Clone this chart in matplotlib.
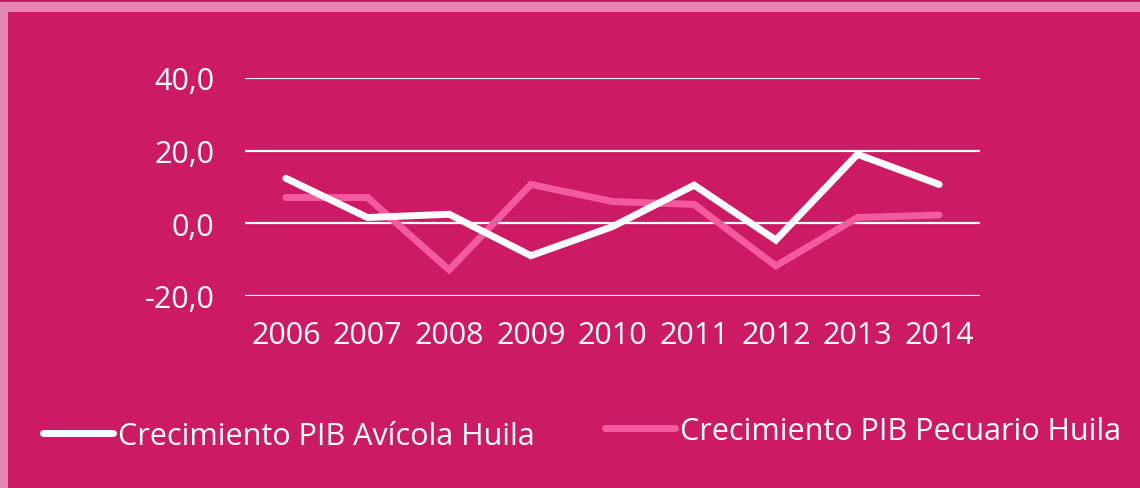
import matplotlib.pyplot as plt
from matplotlib.patches import Rectangle

# Data
years = ['2006', '2007', '2008', '2009', '2010', '2011', '2012', '2013', '2014']
avicola = [12.4, 1.6, 2.5, -8.9, -0.9, 10.5, -4.6, 19.0, 10.7]
pecuario = [7.1, 7.1, -12.8, 10.7, 6.0, 5.2, -11.7, 1.6, 2.3]
y_ticks = [-20, 0, 20, 40]
y_labels = ['-20,0', '0,0', '20,0', '40,0']

bg = '#CD1A65'
border = '#E388B2'
pink = '#F45A9E'

plt.rcParams['font.family'] = ['Open Sans', 'DejaVu Sans']

fig = plt.figure(figsize=(11.4, 4.89), dpi=100)
fig.patch.set_facecolor(bg)

# light pink frame at top and left edge
fig.patches.append(Rectangle((0, 1 - 12.5 / 489), 1, 9.5 / 489, transform=fig.transFigure,
                             facecolor=border, edgecolor='none', zorder=0))
fig.patches.append(Rectangle((0, 0), 7.5 / 1140, 1 - 3 / 489, transform=fig.transFigure,
                             facecolor=border, edgecolor='none', zorder=0))

ax = fig.add_axes([245 / 1140, 192 / 489, 735 / 1140, 218 / 489])
ax.set_facecolor('none')

x = list(range(len(years)))
l1, = ax.plot(x, avicola, color='white', linewidth=5, solid_capstyle='round',
              solid_joinstyle='miter', label='Crecimiento PIB Avícola Huila', zorder=3)
l2, = ax.plot(x, pecuario, color=pink, linewidth=5, solid_capstyle='round',
              solid_joinstyle='miter', label='Crecimiento PIB Pecuario Huila', zorder=2)

ax.set_xlim(-0.5, len(years) - 0.5)
ax.set_ylim(-20, 40)
ax.set_yticks(y_ticks)
ax.set_yticklabels(y_labels)
ax.set_xticks(x)
ax.set_xticklabels(years)
ax.grid(axis='y', color='white', linewidth=1.6, zorder=1)
ax.set_axisbelow(True)
for s in ax.spines.values():
    s.set_visible(False)
ax.tick_params(axis='both', length=0, labelcolor='white', labelsize=22)
ax.tick_params(axis='x', pad=17)
ax.tick_params(axis='y', pad=22)

# two legend entries, placed separately like in the original
legend_kw = dict(loc='center left', frameon=False, fontsize=22, handlelength=2.3,
                 handletextpad=0.15, borderaxespad=0, borderpad=0, labelcolor='white')
fig.legend([l1], [l1.get_label()], bbox_to_anchor=(43 / 1140, 1 - 437 / 489), **legend_kw)
fig.legend([l2], [l2.get_label()], bbox_to_anchor=(605 / 1140, 1 - 432 / 489), **legend_kw)

fig.savefig('out.png', dpi=100, facecolor=bg)
